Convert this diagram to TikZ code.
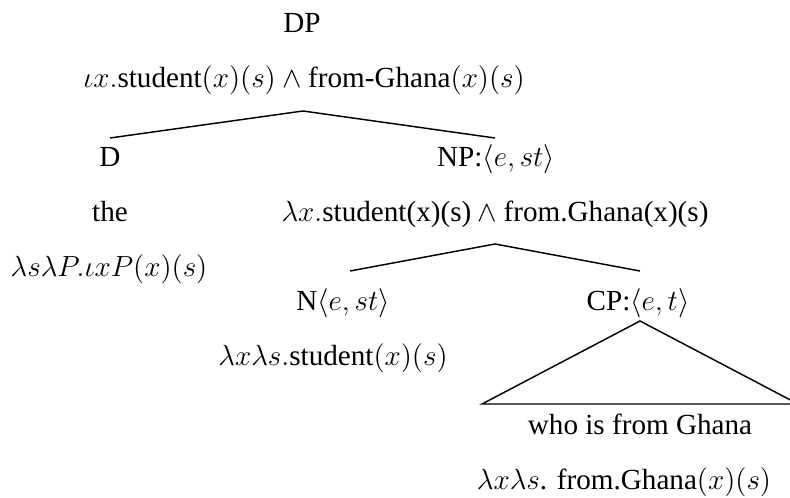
\documentclass[tikz,border=0pt,12pt]{standalone}
\usepackage[no-math]{fontspec}
\setmainfont{Liberation Serif}
\begin{document}
\begin{tikzpicture}[x=0.4116pt,y=-0.4116pt,
  lbl/.style={anchor=base,inner sep=0pt},
  branch/.style={line width=0.6pt}]
\useasboundingbox (0,0) rectangle (790,498);
\clip (0,0) rectangle (790,498);

% root
\node[lbl] (dp)    at (302,33) {DP};
\node[lbl] (dpsem) at (304,88) {$\iota x.\mbox{student}(x)(s) \wedge \mbox{from-Ghana}(x)(s)$};

% determiner column
\node[lbl] (d)     at (110,167) {D};
\node[lbl] (the)   at (110,222) {the};
\node[lbl] (dsem)  at (109,277) {$\lambda s\lambda P.\iota x P(x)(s)$};

% NP column
\node[lbl] (np)    at (496,167) {NP:$\langle e,st\rangle$};
\node[lbl] (npsem) at (495,222) {$\lambda x.\mbox{student(x)(s)} \wedge \mbox{from.Ghana(x)(s)}$};

% N column
\node[lbl] (n)     at (343,311) {N$\langle e,st\rangle$};
\node[lbl] (nsem)  at (333,366) {$\lambda x\lambda s.\mbox{student}(x)(s)$};

% CP column
\node[lbl] (cp)    at (638,311) {CP:$\langle e,t\rangle$};
\node[lbl] (who)   at (640,434) {who is from Ghana};
\node[lbl] (cpsem) at (624,489) {$\lambda x\lambda s$. from.Ghana$(x)(s)$};

% branch points
\coordinate (top1) at (303,111);
\coordinate (l1)   at (110,138);
\coordinate (r1)   at (495,138);
\coordinate (top2) at (495,244);
\coordinate (l2)   at (350,271);
\coordinate (r2)   at (640,271);
\coordinate (tri)  at (640,321);
\coordinate (triL) at (482,404);
\coordinate (triR) at (798,404);

\draw[branch] (l1) -- (top1) -- (r1);
\draw[branch] (l2) -- (top2) -- (r2);
\draw[branch] (tri) -- (triL) -- (triR) -- cycle;
\end{tikzpicture}
\end{document}
